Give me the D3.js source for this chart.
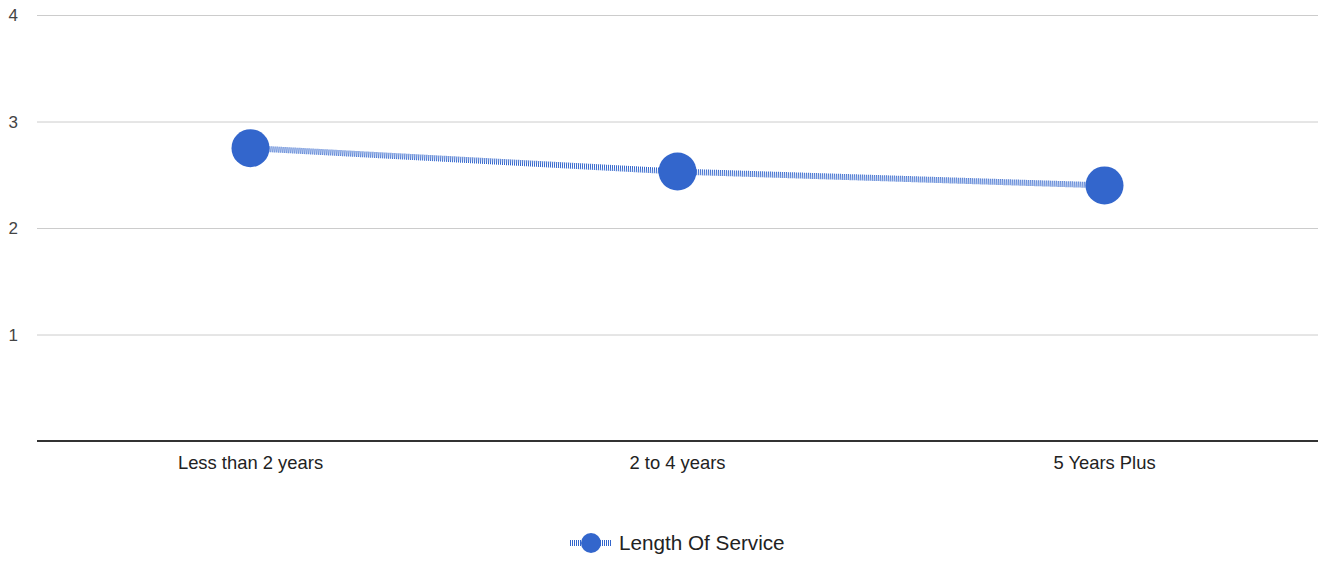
<!DOCTYPE html>
<html>
<head>
<meta charset="utf-8">
<script src="https://cdn.jsdelivr.net/npm/d3@7"></script>
<style>
  body { margin: 0; background: #fff; }
  text { font-family: "Liberation Sans", Arial, sans-serif; }
</style>
</head>
<body>
<div id="chart"></div>
<script>
// data
var categories = ['Less than 2 years', '2 to 4 years', '5 Years Plus'];
var values = [2.75, 2.53, 2.40];
var yTicks = [1, 2, 3, 4];
var seriesName = 'Length Of Service';

var W = 1322, H = 562;
var plotLeft = 37, plotRight = 1318, plotTop = 15, plotBottom = 441;
var blue = '#3366cc';

var svg = d3.select('#chart').append('svg')
    .attr('width', W)
    .attr('height', H);

var x = d3.scaleBand()
    .domain(categories)
    .range([plotLeft, plotRight]);

var y = d3.scaleLinear()
    .domain([0, 4])
    .range([plotBottom, plotTop]);

// gridlines
svg.append('g')
    .selectAll('line')
    .data(yTicks)
    .enter()
    .append('line')
    .attr('x1', plotLeft)
    .attr('x2', plotRight)
    .attr('y1', d => y(d) + 0.5)
    .attr('y2', d => y(d) + 0.5)
    .attr('stroke', '#cccccc')
    .attr('stroke-width', 1);

// y tick labels
svg.append('g')
    .selectAll('text')
    .data(yTicks)
    .enter()
    .append('text')
    .attr('x', 18)
    .attr('y', d => y(d) + 6)
    .attr('text-anchor', 'end')
    .attr('font-size', 17)
    .attr('fill', '#444')
    .text(d => d);

// baseline
svg.append('line')
    .attr('x1', plotLeft)
    .attr('x2', plotRight)
    .attr('y1', y(0))
    .attr('y2', y(0))
    .attr('stroke', '#333')
    .attr('stroke-width', 2);

// x labels
svg.append('g')
    .selectAll('text')
    .data(categories)
    .enter()
    .append('text')
    .attr('x', d => x(d) + x.bandwidth() / 2)
    .attr('y', 469)
    .attr('text-anchor', 'middle')
    .attr('font-size', 18.4)
    .attr('fill', '#222')
    .text(d => d);

// the series line
var line = d3.line()
    .x((d, i) => x(categories[i]) + x.bandwidth() / 2)
    .y(d => y(d));

svg.append('path')
    .datum(values)
    .attr('d', line)
    .attr('fill', 'none')
    .attr('stroke', blue)
    .attr('stroke-width', 6)
    .attr('stroke-dasharray', '1,1');

svg.append('g')
    .selectAll('circle')
    .data(values)
    .enter()
    .append('circle')
    .attr('cx', (d, i) => x(categories[i]) + x.bandwidth() / 2)
    .attr('cy', d => y(d))
    .attr('r', 19)
    .attr('fill', blue);

// legend
var legend = svg.append('g');
legend.append('line')
    .attr('x1', 570)
    .attr('x2', 612)
    .attr('y1', 543)
    .attr('y2', 543)
    .attr('stroke', blue)
    .attr('stroke-width', 6)
    .attr('stroke-dasharray', '1,1');
legend.append('circle')
    .attr('cx', 591)
    .attr('cy', 543)
    .attr('r', 10)
    .attr('fill', blue);
legend.append('text')
    .attr('x', 619)
    .attr('y', 550)
    .attr('font-size', 20.7)
    .attr('fill', '#222')
    .text(seriesName);
</script>
</body>
</html>
